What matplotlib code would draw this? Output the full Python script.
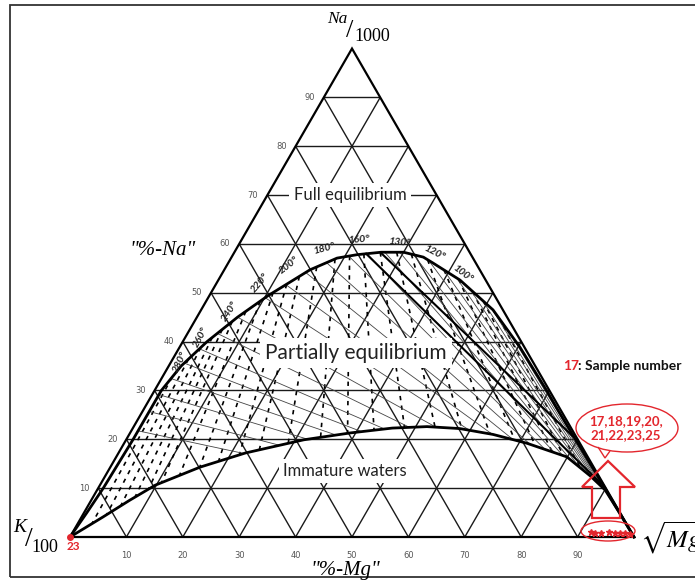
import numpy as np
import matplotlib
matplotlib.use("Agg")
import matplotlib.pyplot as plt
from matplotlib.patches import Ellipse, Polygon, Rectangle

# ------------------------------------------------------------------ data
grid_values = [10, 20, 30, 40, 50, 60, 70, 80, 90]
left_tick_labels = ["10", "20", "30", "40", "50", "60", "70", "80", "90"]
bottom_tick_labels = ["10", "20", "30", "40", "50", "60", "70", "80", "90"]

# full equilibrium curve (ternary %Na, %Mg)
full_eq_na = [0, 5, 10, 20, 30, 35, 40, 45, 49.4, 54.7, 57.1, 57.8, 58.3, 58.3,
              57.3, 56.1, 52.6, 46.5, 38.9, 30.1, 26.5, 20, 13, 6, 0]
full_eq_mg = [0, 0.5, 0.9, 1.2, 1.2, 2.2, 4.3, 7.2, 10.4, 15.2, 18.8, 22, 26, 30,
              34, 36.3, 42.85, 51.75, 60.3, 69.4, 73.0, 79.6, 86.8, 93.9, 100]

# immature waters curve
immature_na = [0, 4.1, 7.5, 10.6, 14.3, 17.2, 19.9, 21.3, 22.3, 22.6, 22.2, 21.0,
               19.2, 16.4, 12.5, 9.6, 5, 0]
immature_mg = [0, 3.8, 6.8, 9.8, 15.9, 22.5, 31.5, 39, 46, 52, 58, 64.5,
               71.4, 79.9, 86.0, 90.1, 94.9, 100]

# K-Mg isotherms (dashed, through the Na apex): %Mg where they meet the base
kmg_isotherm_mg = [2.6, 4.4, 6.2, 8.1, 10, 12, 15, 18.5, 22, 26, 30, 36, 43, 49,
                   55, 62, 69, 75, 81, 86, 90, 93, 95, 97.2]

# Na-K isotherms (thin, through the Mg apex): %Na where they meet the left side
nak_isotherm_na = [22, 26, 29.5, 33, 36.5, 40, 44, 48.5, 54.5, 59, 63.5, 68, 72.5,
                   76, 79.5, 82.5, 85, 87.5, 89.5, 91.5, 93.2, 94.8, 96.2, 97.4]

# two thick straight lines starting at the top of the full-equilibrium curve
thick_lines_na = [[58.0, 11.0], [58.2, 20.5]]
thick_lines_mg = [[23.5, 88.6], [26.0, 79.0]]

temp_labels = ["280°", "260°", "240°", "220°", "200°", "180°",
               "160°", "130°", "120°", "100°"]

# samples plotted near the sqrt(Mg) corner and at the K corner
sample_na = [1.0, 0.9, 0.8, 1.0, 0.8, 0.9, 0.8, 0.7]
sample_mg = [91.8, 92.6, 93.8, 95.0, 96.2, 97.0, 98.0, 98.9]
corner_sample_na = [0.0]
corner_sample_mg = [0.0]
corner_sample_label = "23"
callout_text = "17,18,19,20,\n21,22,23,25"

# ------------------------------------------------------------------ helpers
S = 5.64  # pixels per ternary unit


def tern(na, mg):
    na = np.asarray(na, float)
    mg = np.asarray(mg, float)
    return mg + na / 2.0, na * np.sqrt(3) / 2.0


def pix(x, y):
    """layout helper: picture pixel -> axes data"""
    return ((x - 70) / S, (537 - y) / S)


def hits(p0, p1, cx, cy):
    d = p1 - p0
    out = []
    for i in range(len(cx) - 1):
        a = np.array([cx[i], cy[i]])
        e = np.array([cx[i + 1], cy[i + 1]]) - a
        den = d[0] * e[1] - d[1] * e[0]
        if abs(den) < 1e-12:
            continue
        w = a - p0
        t = (w[0] * e[1] - w[1] * e[0]) / den
        u = (w[0] * d[1] - w[1] * d[0]) / den
        if 0 <= t <= 1 and 0 <= u <= 1:
            out.append(t)
    return sorted(out)


RED = "#e3262d"
SERIF = "Liberation Serif"
SANS = "Lato"
plt.rcParams["mathtext.fontset"] = "stix"

fig = plt.figure(figsize=(6.95, 5.8), dpi=100)
ax = fig.add_axes([0, 0, 1, 1])
ax.set_xlim(pix(0, 0)[0], pix(695, 0)[0])
ax.set_ylim(pix(0, 580)[1], pix(0, 0)[1])
ax.set_aspect("equal")
ax.axis("off")

# frame
x0, y0 = pix(10, 577)
ax.add_patch(Rectangle((x0, y0), 700 / S, 572 / S, fill=False, ec="#333333", lw=1.3))

# grid
for v in grid_values:
    for (na, mg) in [([v, v], [0, 100 - v]),
                     ([0, 100 - v], [v, v]),
                     ([0, 100 - v], [100 - v, 0])]:
        gx, gy = tern(na, mg)
        ax.plot(gx, gy, color="#1a1a1a", lw=1.0, zorder=1, solid_capstyle="butt")

# triangle
tx, ty = tern([0, 0, 100, 0], [0, 100, 0, 0])
ax.plot(tx, ty, color="black", lw=1.6, zorder=2, solid_joinstyle="miter")

fx, fy = tern(full_eq_na, full_eq_mg)
ix, iy = tern(immature_na, immature_mg)

# K-Mg isotherms (dashed)
apex = np.array(tern(100, 0), float)
for m in kmg_isotherm_mg:
    p1 = np.array(tern(0, m), float)
    hf = [t for t in hits(apex, p1, fx, fy) if 1e-6 < t < 1 - 1e-6]
    if not hf:
        continue
    tf = hf[0]
    hi = [t for t in hits(apex, p1, ix, iy) if t > tf + 1e-6]
    ti = hi[0] if hi else 1.0
    a = apex + tf * (p1 - apex)
    b = apex + ti * (p1 - apex)
    ax.plot([a[0], b[0]], [a[1], b[1]], color="black", lw=1.2,
            linestyle=(0, (2.6, 3.2)), zorder=2)

# Na-K isotherms (thin)
mgv = np.array(tern(0, 100), float)
for p in nak_isotherm_na:
    p0 = np.array(tern(p, 0), float)
    hf = [t for t in hits(p0, mgv, fx, fy) if 1e-6 < t < 1 - 1e-4]
    if not hf:
        continue
    tf = hf[0]
    hi = [t for t in hits(p0, mgv, ix, iy) if tf + 1e-6 < t < 1 - 1e-4]
    ti = hi[0] if hi else 1.0
    a = p0 + tf * (mgv - p0)
    b = p0 + ti * (mgv - p0)
    ax.plot([a[0], b[0]], [a[1], b[1]], color="#444444", lw=0.6, zorder=2)

# thick straight lines
for na, mg in zip(thick_lines_na, thick_lines_mg):
    lx, ly = tern(na, mg)
    ax.plot(lx, ly, color="black", lw=1.5, zorder=3)

# main curves
ax.plot(fx, fy, color="black", lw=2.0, zorder=3, solid_joinstyle="round")
ax.plot(ix, iy, color="black", lw=2.0, zorder=3, solid_joinstyle="round")

# tick labels
for v, lab in zip(grid_values, left_tick_labels):
    ex, ey = tern(v, 0)
    ax.text(ex - 9 / S, ey, lab, ha="right", va="center", fontsize=6,
            color="#555555", family="DejaVu Sans", zorder=6)
for v, lab in zip(grid_values, bottom_tick_labels):
    ex, ey = tern(0, v)
    ax.text(ex, pix(0, 555)[1], lab, ha="center", va="center", fontsize=6,
            color="#555555", family="DejaVu Sans", zorder=6)

# region labels with white boxes
box = dict(facecolor="white", edgecolor="none", boxstyle="square,pad=0.25")
ax.text(*pix(350, 195), "Full equilibrium", ha="center", va="center",
        fontsize=12, family=SANS, color="#222222", bbox=box, zorder=7)
ax.text(*pix(356, 353), "Partially equilibrium", ha="center", va="center",
        fontsize=15, family=SANS, color="#222222", bbox=box, zorder=7)
ax.text(*pix(345, 471), "Immature waters", ha="center", va="center",
        fontsize=12, family=SANS, color="#222222", bbox=box, zorder=7)

# temperature labels along the full-equilibrium curve
temp_pos = [(180, 362, 65), (201, 337, 62), (230, 311, 57), (260, 283, 50),
            (289, 265, 38), (324, 249, 15), (359, 240, 4), (399, 242, -5),
            (434, 253, -27), (462, 274, -37)]
for lab, (px_, py_, rot) in zip(temp_labels, temp_pos):
    ax.text(*pix(px_, py_), lab, ha="center", va="center", rotation=rot,
            fontsize=7.5, family=SANS, style="italic", weight="bold",
            color="#222222", zorder=6)

# axis titles
ax.text(*pix(337, 19), "Na", ha="center", va="center", fontsize=12.5,
        family=SERIF, style="italic", zorder=6)
ax.text(*pix(350, 31), "/", ha="center", va="center", fontsize=19,
        family=SERIF, zorder=6)
ax.text(*pix(372, 36), "1000", ha="center", va="center", fontsize=13,
        family=SERIF, zorder=6)

ax.text(*pix(20, 527), "K", ha="center", va="center", fontsize=14,
        family=SERIF, style="italic", zorder=6)
ax.text(*pix(29, 539), "/", ha="center", va="center", fontsize=20,
        family=SERIF, zorder=6)
ax.text(*pix(45, 548), "100", ha="center", va="center", fontsize=13,
        family=SERIF, zorder=6)

ax.text(*pix(640, 538), r"$\sqrt{Mg}$", ha="left", va="center", fontsize=18,
        zorder=6)

ax.text(*pix(162, 250), '"%-Na"', ha="center", va="center", fontsize=15,
        family=SERIF, style="italic", zorder=6)
ax.text(*pix(345, 570), '"%-Mg"', ha="center", va="center", fontsize=15,
        family=SERIF, style="italic", zorder=6)

# sample legend
ax.text(*pix(563, 366), "17", ha="left", va="center", fontsize=10,
        family=SANS, weight="bold", color=RED, zorder=6)
ax.text(*pix(578, 366), ": Sample number", ha="left", va="center", fontsize=10,
        family=SANS, weight="bold", color="#111111", zorder=6)

# samples
sx, sy = tern(sample_na, sample_mg)
ax.plot(sx, sy, linestyle="none", marker="*", ms=5, color=RED, zorder=8)
cx_, cy_ = tern(corner_sample_na, corner_sample_mg)
ax.plot(cx_, cy_, linestyle="none", marker="o", ms=4, color=RED, zorder=8)
ax.text(*pix(73, 547), corner_sample_label, ha="center", va="center",
        fontsize=8.5, family=SANS, weight="bold", color=RED, zorder=8)

# ellipse around samples
ax.add_patch(Ellipse(pix(608, 531), 54 / S, 20 / S, fill=False, ec=RED,
                     lw=1.0, zorder=8))

# callout bubble
ax.add_patch(Ellipse(pix(627, 428), 102 / S, 48 / S, fill=False, ec=RED,
                     lw=1.0, zorder=8))
tail = [pix(598, 447), pix(605, 458), pix(610, 451)]
ax.add_patch(Polygon(tail, closed=False, fill=False, ec=RED, lw=1.0, zorder=8))
ax.text(*pix(626, 428), callout_text, ha="center", va="center", fontsize=9.5,
        family=SANS, weight="bold", color=RED, linespacing=1.25, zorder=9)

# hollow arrow
arrow = [pix(592, 518), pix(592, 487), pix(582, 487), pix(608, 461),
         pix(635, 487), pix(620, 487), pix(620, 518)]
ax.add_patch(Polygon(arrow, closed=True, fill=False, ec=RED, lw=1.6, zorder=8))

fig.savefig("out.png", dpi=100)
